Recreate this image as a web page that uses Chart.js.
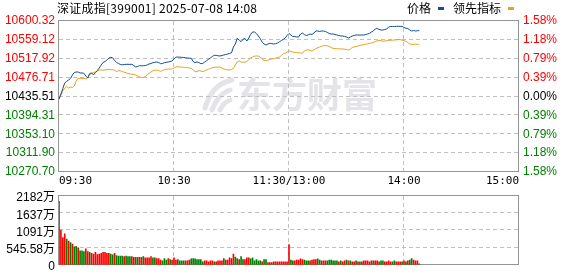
<!DOCTYPE html>
<html><head><meta charset="utf-8">
<script src="https://cdn.jsdelivr.net/npm/chart.js@4.4.1/dist/chart.umd.min.js"></script>
<style>
html,body{margin:0;padding:0;background:#fff;width:578px;height:276px;overflow:hidden}
#wrap{position:relative;width:578px;height:276px}
canvas{position:absolute;left:0;top:0}
.t{position:absolute;font:12px "Noto Sans CJK SC","Liberation Sans",sans-serif;color:#000;white-space:nowrap;line-height:14px}
.mk{position:absolute;width:6px;height:3px}
</style></head>
<body><div id="wrap">
<canvas id="c1" width="578" height="276"></canvas>
<canvas id="c2" width="578" height="276"></canvas>
<div class="t" id="title" style="left:57px;top:1px;letter-spacing:0.25px"></div>
<div class="t" id="lg1" style="left:407px;top:1px"></div>
<div class="mk" style="left:438px;top:7px;background:#0d4d9e"></div>
<div class="t" id="lg2" style="left:453px;top:1px"></div>
<div class="mk" style="left:508px;top:7px;background:#e6a11d"></div>
</div>
<script>
// ---- data ----
const titleText = "深证成指[399001] 2025-07-08 14:08";
const seriesNames = ["价格", "领先指标"];
const timeLabels = ["09:30", "10:30", "11:30/13:00", "14:00", "15:00"];
const timeTickIdx = [0, 60, 120, 180, 240];
const totalMinutes = 240;
const prevClose = 10435.51;
const priceTicks = [10270.70, 10311.90, 10353.10, 10394.31, 10435.51, 10476.71, 10517.92, 10559.12, 10600.32];
const priceTickLabels = ["10270.70", "10311.90", "10353.10", "10394.31", "10435.51", "10476.71", "10517.92", "10559.12", "10600.32"];
const pctTicks = [-1.58, -1.185, -0.79, -0.395, 0, 0.395, 0.79, 1.185, 1.58];
const pctTickLabels = ["1.58%", "1.18%", "0.79%", "0.39%", "0.00%", "0.39%", "0.79%", "1.18%", "1.58%"];
const volTicks = [0, 545.58, 1091.16, 1636.74, 2182.32];
const volTickLabels = ["0", "545.58万", "1091万", "1637万", "2182万"];

const priceValues = [
10430.05,10440.97,10452.97,10464.98,10468.69,10471.53,10474.80,10482.44,10487.90,10488.99,
10488.99,10486.81,10486.81,10486.15,10480.26,10475.89,10485.72,10486.81,10482.44,10487.90,
10492.27,10497.72,10504.27,10509.73,10511.91,10515.19,10519.55,10521.08,10519.99,10514.09,
10510.16,10507.55,10505.36,10504.71,10505.36,10505.80,10505.80,10505.60,10505.80,10503.18,
10499.91,10501.00,10502.74,10502.52,10502.74,10503.18,10504.27,10506.45,10507.55,10509.29,
10510.16,10510.82,10509.73,10507.11,10507.55,10509.29,10510.16,10510.82,10511.91,10513.00,
10517.37,10521.30,10521.73,10521.30,10521.08,10520.64,10520.21,10519.55,10519.12,10518.90,
10511.91,10509.29,10510.82,10509.73,10507.11,10507.55,10510.82,10513.66,10516.71,10519.55,
10522.83,10525.45,10525.23,10524.35,10523.92,10525.01,10526.10,10527.19,10528.28,10529.37,
10530.90,10543.56,10550.11,10562.56,10558.84,10555.13,10560.37,10562.34,10556.66,10563.21,
10571.29,10576.31,10576.31,10573.03,10567.58,10561.46,10554.48,10550.11,10547.93,10550.11,
10551.64,10550.99,10550.11,10550.77,10552.30,10554.91,10557.75,10560.37,10563.21,10568.67,
10573.03,10569.76,10566.48,10566.48,10565.39,10565.39,10571.94,10574.12,10570.85,10568.67,
10569.76,10571.94,10570.85,10574.12,10578.49,10578.49,10577.40,10578.49,10578.49,10577.40,
10575.22,10573.03,10571.94,10571.94,10570.85,10569.76,10568.67,10567.58,10567.58,10566.48,
10565.39,10563.21,10565.39,10567.58,10568.67,10569.76,10569.76,10569.54,10569.76,10569.76,
10570.85,10571.94,10573.47,10576.31,10578.49,10582.86,10583.95,10581.76,10580.67,10580.67,
10581.76,10582.86,10587.22,10588.31,10588.31,10588.31,10588.75,10588.75,10588.53,10588.75,
10586.13,10584.38,10583.95,10580.67,10578.49,10579.58,10578.49,10579.14,10579.14
];
const leadValues = [
10428.96,10438.78,10447.52,10454.06,10457.34,10454.06,10456.25,10455.16,10458.43,10469.35,
10475.24,10475.24,10475.02,10475.24,10473.71,10475.89,10483.10,10486.15,10487.90,10488.99,
10491.17,10493.36,10493.36,10493.14,10493.79,10494.01,10494.45,10494.23,10493.79,10492.92,
10490.08,10491.61,10491.61,10490.08,10488.55,10487.46,10485.72,10484.63,10484.19,10483.75,
10482.44,10480.26,10478.51,10476.99,10476.55,10478.73,10482.44,10485.94,10488.99,10491.83,
10492.48,10493.14,10492.27,10490.52,10492.27,10494.45,10494.88,10495.32,10495.54,10495.54,
10497.72,10499.91,10500.34,10499.91,10499.69,10499.25,10499.03,10498.60,10497.72,10497.07,
10493.36,10489.43,10490.08,10491.83,10491.17,10489.86,10491.17,10493.36,10495.10,10496.63,
10498.38,10499.25,10499.47,10499.69,10499.91,10497.72,10495.54,10494.23,10493.79,10493.36,
10494.45,10497.07,10504.27,10510.82,10513.00,10510.82,10510.16,10510.82,10511.48,10516.28,
10519.55,10521.73,10523.48,10523.92,10523.92,10521.73,10517.37,10514.53,10513.44,10514.53,
10516.50,10517.37,10518.24,10519.33,10520.64,10521.73,10525.01,10529.16,10530.03,10532.65,
10535.27,10533.74,10532.65,10531.56,10531.56,10530.90,10530.47,10529.81,10534.83,10537.01,
10537.45,10535.92,10534.83,10537.01,10540.29,10541.82,10543.56,10545.09,10546.84,10546.40,
10546.18,10544.66,10542.47,10540.73,10539.85,10539.63,10539.63,10539.42,10539.20,10538.98,
10538.11,10537.01,10538.76,10542.47,10543.56,10544.66,10545.75,10546.84,10547.93,10548.80,
10549.68,10550.55,10551.64,10552.30,10553.82,10555.13,10557.10,10558.19,10557.32,10556.22,
10556.66,10557.32,10557.75,10558.19,10558.41,10558.84,10559.28,10559.72,10559.94,10558.41,
10557.32,10556.01,10553.39,10550.55,10549.02,10549.02,10550.11,10549.46,10547.93
];
const volumeWan = [
2014,1100,864,982,815,756,707,658,569,589,540,441,441,422,510,422,392,363,343,392,
323,343,363,392,392,363,363,343,314,363,294,275,275,275,264,275,264,264,264,235,
235,235,235,235,264,225,225,225,264,225,225,196,196,147,127,196,147,196,
166,147,225,147,166,127,127,127,127,127,147,186,196,186,166,166,166,97,127,127,
97,127,127,97,97,127,127,127,196,147,147,225,196,343,245,196,166,264,166,166,
225,225,186,225,127,166,127,127,97,166,166,68,68,68,97,97,97,97,97,97,97,97,638,
147,127,127,147,147,186,166,147,127,127,127,
147,166,166,186,147,127,127,127,127,147,147,127,127,
127,97,127,97,127,147,127,127,97,97,127,97,97,97,
127,127,127,97,127,127,127,127,97,127,127,97,97,127,
97,97,127,97,97,97,97,127,97,
127,147,196,147,127,127,30
];
const volumeUp = [
1,1,1,1,0,1,0,1,0,0,1,0,0,0,1,1,0,1,1,1,
1,1,1,1,1,1,1,0,0,1,0,0,0,0,1,0,0,0,1,1,
0,0,1,1,0,1,1,1,1,0,0,1,1,1,0,0,0,1,
0,1,1,1,0,0,0,0,1,1,
1,0,0,0,0,0,0,0,1,1,
1,1,1,0,1,1,1,1,0,1,
1,1,1,1,0,0,1,0,0,1,
1,1,0,0,0,0,0,0,1,0,
0,1,1,0,1,1,1,1,1,1,
1,1,1,
0,0,1,1,1,1,1,0,0,0,1,
1,1,1,0,0,1,1,1,0,0,0,0,0,
0,1,0,1,1,0,1,0,1,1,0,1,0,1,
1,1,1,1,1,0,1,1,1,0,0,1,1,1,
1,0,0,1,1,1,0,1,0,
1,0,0,1,1,1,0
];

// ---- styles ----
const BLUE = "#0d4d9e", GOLD = "#e6a11d", RED = "#ff0000", GREEN = "#008000";
const GRID = "#c0c0c0", BOX = "#959595";
document.getElementById("title").textContent = titleText;
document.getElementById("lg1").textContent = seriesNames[0];
document.getElementById("lg2").textContent = seriesNames[1];

// dashed grid drawn through the chart's own scales at their tick values
const gridPlugin = {
  id: "dashgrid",
  beforeDatasetsDraw(chart) {
    const a = chart.chartArea, c = chart.ctx;
    const xs = chart.scales.x, ys = chart.scales.y;
    const L = Math.round(a.left), R = Math.round(a.right), T = Math.round(a.top), B = Math.round(a.bottom);
    c.save();
    c.fillStyle = GRID;
    xs.ticks.forEach((t) => {
      const px = Math.round(xs.getPixelForValue(t.value)) - 1;
      for (let y = T; y < B; y += 7) c.fillRect(px, y, 1, Math.min(4, B - y));
    });
    ys.ticks.forEach((t) => {
      const py = Math.round(ys.getPixelForValue(t.value)) - 1;
      for (let x = L; x < R; x += 7) c.fillRect(x, py, Math.min(4, R - x), 1);
    });
    c.fillStyle = BOX;
    c.fillRect(L - 1, T - 1, R - L + 1, 1);
    c.fillRect(L - 1, B - 1, R - L + 1, 1);
    c.fillRect(L - 1, T - 1, 1, B - T + 1);
    c.fillRect(R - 1, T - 1, 1, B - T + 1);
    c.restore();
  }
};
const watermark = {
  id: "wm",
  beforeDatasetsDraw(chart) {
    const c = chart.ctx;
    c.save();
    c.fillStyle = "#e3e3e8"; c.strokeStyle = "#e3e3e8";
    c.font = 'bold 35px "Noto Sans CJK SC"';
    c.textBaseline = "middle";
    c.fillText("东方财富", 237, 95);
    c.lineWidth = 5; c.lineCap = "round";
    c.beginPath(); c.moveTo(205, 108); c.quadraticCurveTo(212, 84, 232, 80); c.stroke();
    c.beginPath(); c.moveTo(212, 110); c.quadraticCurveTo(218, 94, 230, 90); c.stroke();
    c.beginPath(); c.moveTo(220, 110); c.quadraticCurveTo(224, 102, 230, 100); c.stroke();
    c.restore();
  }
};

const xIdx = (arr) => arr.map((v, i) => ({ x: i, y: v }));
const fixW = (w) => (s) => { s.width = w; };
const fixH = (h) => (s) => { s.height = h; };

new Chart(document.getElementById("c1"), {
  type: "line",
  data: {
    datasets: [
      { label: seriesNames[0], data: xIdx(priceValues), borderColor: BLUE, borderWidth: 1, pointRadius: 0, tension: 0, yAxisID: "y" },
      { label: seriesNames[1], data: xIdx(leadValues), borderColor: GOLD, borderWidth: 1, pointRadius: 0, tension: 0, yAxisID: "y" }
    ]
  },
  options: {
    responsive: false, animation: false,
    layout: { padding: { top: 21, left: 0, right: 0, bottom: 0 } },
    plugins: { legend: { display: false }, tooltip: { enabled: false } },
    scales: {
      x: {
        type: "linear", min: 0, max: totalMinutes,
        afterBuildTicks: (s) => { s.ticks = timeTickIdx.map(v => ({ value: v })); },
        afterFit: fixH(104),
        grid: { display: false, drawTicks: false },
        border: { display: false },
        ticks: { autoSkip: false, maxRotation: 0, align: "inner", padding: 3, color: "#000",
          font: { family: "DejaVu Sans Mono", size: 11 },
          callback: (v, i) => timeLabels[i] }
      },
      y: {
        position: "left", min: priceTicks[0], max: priceTicks[priceTicks.length - 1],
        afterBuildTicks: (s) => { s.ticks = priceTicks.map(v => ({ value: v })); },
        afterFit: fixW(59),
        grid: { display: false, drawTicks: false },
        border: { display: false },
        ticks: { padding: 4, font: { family: "Liberation Sans", size: 12 },
          color: (ctx) => priceTicks[ctx.index] > prevClose ? RED : (priceTicks[ctx.index] < prevClose ? GREEN : "#000"),
          callback: (v, i) => priceTickLabels[i] }
      },
      y2: {
        position: "right", min: pctTicks[0], max: pctTicks[pctTicks.length - 1],
        afterBuildTicks: (s) => { s.ticks = pctTicks.map(v => ({ value: v })); },
        afterFit: fixW(59),
        grid: { display: false, drawTicks: false },
        border: { display: false },
        ticks: { padding: 4, font: { family: "Liberation Sans", size: 12 },
          color: (ctx) => pctTicks[ctx.index] > 0 ? RED : (pctTicks[ctx.index] < 0 ? GREEN : "#000"),
          callback: (v, i) => pctTickLabels[i] }
      }
    }
  },
  plugins: [watermark, gridPlugin]
});

new Chart(document.getElementById("c2"), {
  type: "bar",
  data: {
    datasets: [{ data: xIdx(volumeWan), backgroundColor: volumeUp.map(u => u ? RED : GREEN), borderWidth: 0, barThickness: 1 }]
  },
  options: {
    responsive: false, animation: false,
    layout: { padding: { top: 196, left: 0, right: 59, bottom: 0 } },
    plugins: { legend: { display: false }, tooltip: { enabled: false } },
    scales: {
      x: {
        type: "linear", min: 0, max: totalMinutes, offset: false,
        afterBuildTicks: (s) => { s.ticks = timeTickIdx.map(v => ({ value: v })); },
        afterFit: fixH(6),
        grid: { display: false, drawTicks: false, offset: false },
        border: { display: false },
        ticks: { display: false }
      },
      y: {
        min: 0, max: volTicks[volTicks.length - 1],
        afterBuildTicks: (s) => { s.ticks = volTicks.map(v => ({ value: v })); },
        afterFit: fixW(59),
        grid: { display: false, drawTicks: false },
        border: { display: false },
        ticks: { padding: 4, labelOffset: 2, color: "#000",
          font: { family: "Liberation Sans, Noto Sans CJK SC", size: 12 },
          callback: (v, i) => volTickLabels[i] }
      }
    }
  },
  plugins: [gridPlugin]
});
</script>
</body></html>
